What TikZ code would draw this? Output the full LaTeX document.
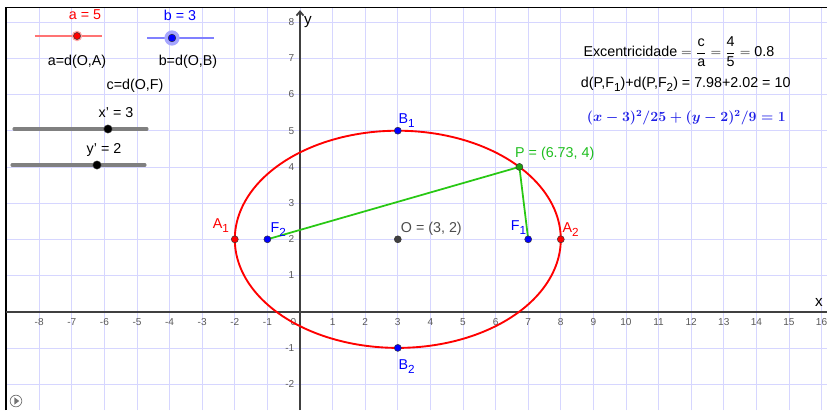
\documentclass[tikz,border=0pt]{standalone}
\usepackage{amsmath}
\usepackage{fontspec}
\setmainfont{Liberation Sans}
\usetikzlibrary{arrows.meta}
\usetikzlibrary{calc}
\tikzset{>=latex}
\definecolor{ggred}{RGB}{255,0,0}
\definecolor{ggblue}{RGB}{0,0,255}
\definecolor{gggreen}{RGB}{40,200,20}
\definecolor{labgreen}{RGB}{30,190,30}
\definecolor{eqblue}{RGB}{30,30,230}
\colorlet{gridcol}{blue!16!white}
\colorlet{axiscol}{black!75}
\colorlet{ptgray}{black!75}
\tikzstyle{gridline}=[gridcol,line width=0.6pt]
\tikzstyle{axis}=[axiscol,line width=1.5pt]
\tikzstyle{frame}=[black,line width=1.6pt]
\tikzstyle{ptdot}=[circle,inner sep=0pt,minimum size=6pt,draw=black!80,line width=0.4pt]
\tikzstyle{ticklab}=[font=\fontsize{8.6}{9}\selectfont,text=black!65,inner sep=0pt]
\tikzstyle{lab}=[font=\fontsize{12.2}{14}\selectfont,inner sep=0pt]
\tikzstyle{slidergray}=[black!50,line width=2.6pt,line cap=round]
\newcommand{\elleq}{$\boldsymbol{(x-3)^2/25+(y-2)^2/9=1}$}
\newcommand{\lowsub}[1]{\raisebox{-0.55ex}{\fontsize{10}{10}\selectfont #1}}

\begin{document}
\begin{tikzpicture}[x=0.978cm,y=1.086cm]
  \def\L{-9.018}  % left frame
  \def\T{8.403}   % top frame
  \def\R{16.166}  % right edge
  \def\B{-2.716}  % bottom edge
  \useasboundingbox (-9.2025,\B) rectangle (\R,8.6105);

  % grid
  \begin{scope}
    \clip (\L,\B) rectangle (\R,\T);
    \foreach \i in {-8,...,16} \draw[gridline] (\i,\B) -- (\i,\T);
    \foreach \j in {-2,...,8} \draw[gridline] (\L,\j) -- (\R,\j);
  \end{scope}

  % frame
  \draw[frame] (\L,\B) -- (\L,\T) -- (\R,\T);

  % axes
  \coordinate (xs) at (\L,0);
  \coordinate (xe) at (\R,0);
  \coordinate (ys) at (0,\B);
  \coordinate (ye) at (0,8.33);
  \draw[axis] (xs) -- (xe);
  \draw[axis,-{Straight Barb[length=3.5pt,width=6pt]}] (ys) -- (ye);
  \node[lab,font=\fontsize{13}{14}\selectfont] (ylab) at (0.24,8.0) {y};
  \node[lab,font=\fontsize{13}{14}\selectfont] (xlab) at (15.92,0.26) {x};

  % tick labels
  \foreach \i in {-8,...,-1,1,2,...,16}
    \node[ticklab] (xt\i) at (\i,-0.29) {\i};
  \node[ticklab] (xt0) at (-0.2,-0.28) {0};
  \foreach \j in {-2,-1,1,2,...,8}
    \node[ticklab,anchor=east] (yt\j) at (-0.17,\j) {\j};

  % ellipse (x-3)^2/25+(y-2)^2/9=1
  \draw[ggred,line width=1.6pt] plot[domain=0:360,samples=150,smooth]
    ({3+5*cos(\x)},{2+3*sin(\x)}) -- cycle;

  % points
  \coordinate (A1) at (-2,2);
  \coordinate (A2) at (8,2);
  \coordinate (B1) at (3,5);
  \coordinate (B2) at (3,-1);
  \coordinate (F1) at (7,2);
  \coordinate (F2) at (-1,2);
  \coordinate (O) at (3,2);
  \coordinate (P) at (6.73,4);

  \draw[gggreen,line width=1.5pt] (P) -- (F1);
  \draw[gggreen,line width=1.5pt] (P) -- (F2);

  \node[ptdot,fill=ggred] (A1dot) at (A1) {};
  \node[ptdot,fill=ggred] (A2dot) at (A2) {};
  \node[ptdot,fill=ggblue] (B1dot) at (B1) {};
  \node[ptdot,fill=ggblue] (B2dot) at (B2) {};
  \node[ptdot,fill=ggblue] (F1dot) at (F1) {};
  \node[ptdot,fill=ggblue] (F2dot) at (F2) {};
  \node[ptdot,fill=ptgray] (Odot) at (O) {};
  \node[ptdot,fill=gggreen!80!black] (Pdot) at (P) {};

  % point labels
  \node[lab,text=ggred] (A1lab) at (-2.43,2.39) {A\lowsub{1}};
  \node[lab,text=ggred] (A2lab) at (8.30,2.28) {A\lowsub{2}};
  \node[lab,text=ggblue] (B1lab) at (3.27,5.28) {B\lowsub{1}};
  \node[lab,text=ggblue] (B2lab) at (3.27,-1.52) {B\lowsub{2}};
  \node[lab,text=ggblue] (F1lab) at (6.70,2.33) {F\lowsub{1}};
  \node[lab,text=ggblue] (F2lab) at (-0.67,2.28) {F\lowsub{2}};
  \node[lab,text=black!70,anchor=west] (Olab) at (3.09,2.30) {O = (3, 2)};
  \node[lab,text=labgreen,anchor=west] (Plab) at (6.595,4.356) {P = (6.73, 4)};

  % sliders a and b
  \coordinate (aL) at (-8.129,7.616);
  \coordinate (aR) at (-6.074,7.616);
  \coordinate (bL) at (-4.693,7.561);
  \coordinate (bR) at (-2.638,7.561);
  \draw[ggred!55,line width=1.2pt] (aL) -- (aR);
  \draw[ggblue!50,line width=1.2pt] (bL) -- (bR);
  \node[circle,inner sep=0pt,minimum size=9pt,fill=ggred!35] (ahalo) at (-6.840,7.616) {};
  \node[ptdot,fill=ggred] (adot) at (-6.840,7.616) {};
  \node[circle,inner sep=0pt,minimum size=13pt,fill=ggblue!35] (bhalo) at (-3.926,7.561) {};
  \node[ptdot,fill=ggblue,minimum size=6.5pt] (bdot) at (-3.926,7.561) {};
  \node[lab,text=ggred] (alab) at (-6.595,8.203) {a = 5};
  \node[lab,text=ggblue] (blab) at (-3.681,8.175) {b = 3};
  \node[lab] (adef) at (-6.840,6.897) {a=d(O,A)};
  \node[lab] (bdef) at (-3.436,6.897) {b=d(O,B)};
  \node[lab] (cdef) at (-5.061,6.235) {c=d(O,F)};

  % sliders x' and y'
  \coordinate (xL) at (-8.773,5.047);
  \coordinate (xR) at (-4.693,5.047);
  \coordinate (yL) at (-8.834,4.052);
  \coordinate (yR) at (-4.755,4.052);
  \draw[slidergray] (xL) -- (xR);
  \draw[slidergray] (yL) -- (yR);
  \node[ptdot,fill=black,minimum size=7pt] (xdot) at (-5.890,5.047) {};
  \node[ptdot,fill=black,minimum size=7pt] (ydot) at (-6.227,4.052) {};
  \node[lab] (xlab2) at (-5.644,5.489) {x' = 3};
  \node[lab] (ylab2) at (-6.012,4.467) {y' = 2};

  % texts on the right
  \node[lab,anchor=west] (exc) at (8.690,7.182)
    {Excentricidade $=\dfrac{\text{c}}{\text{a}}=\dfrac{\text{4}}{\text{5}}=$ 0.8};
  \node[lab,anchor=west] (dist) at (8.610,6.290)
    {d(P,F\lowsub{1})+d(P,F\lowsub{2}) = 7.98+2.02 = 10};
  \node[lab,anchor=west,text=eqblue,font=\fontsize{11.9}{14}\selectfont] (eqn) at (8.794,5.370) {\elleq};

  % play button
  \node[circle,draw=black!55,line width=0.6pt,minimum size=10pt,inner sep=0pt] (play) at (-8.712,-2.467) {};
  \fill[black!55] ($(play)+(-0.05,0.1)$) -- ($(play)+(0.1,0)$) -- ($(play)+(-0.05,-0.1)$) -- cycle;
\end{tikzpicture}
\end{document}
